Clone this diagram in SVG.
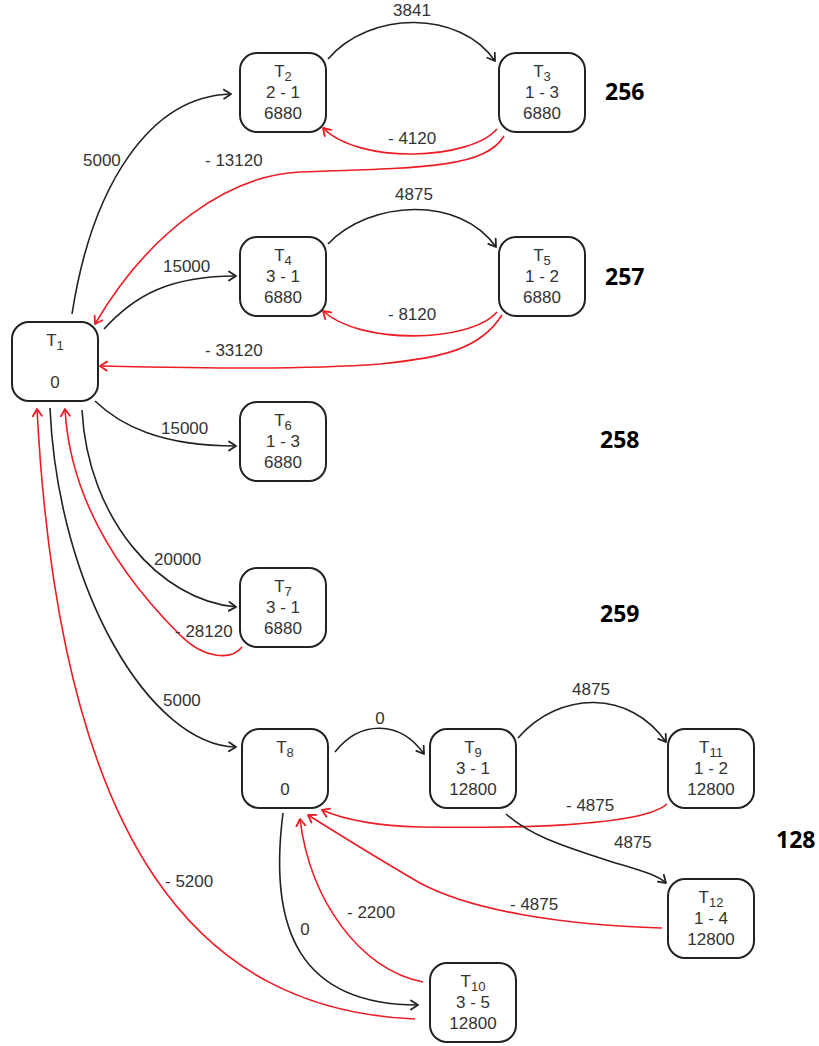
<svg xmlns="http://www.w3.org/2000/svg" width="819" height="1046" viewBox="0 0 819 1046">
<style>
.n rect{fill:#fff;stroke:#222;stroke-width:2}
.n text{font-family:"Liberation Sans",Arial,sans-serif;font-size:17px;fill:#333;text-anchor:middle}
.sub{font-size:13px}
.lbl{font-family:"Liberation Sans",Arial,sans-serif;font-size:17px;fill:#333}
.big{font-family:"Open Sans","Noto Sans",sans-serif;font-size:23px;font-weight:bold;fill:#000}
.b{fill:none;stroke:#222;stroke-width:1.6;marker-end:url(#ab)}
.r{fill:none;stroke:#ee1c24;stroke-width:1.6;marker-end:url(#ar)}
</style>
<defs>
<marker id="ab" markerUnits="userSpaceOnUse" markerWidth="12" markerHeight="12" refX="8" refY="5" orient="auto" viewBox="0 0 12 10">
<path d="M1,0.5 L8,5 L1,9.5" fill="none" stroke="#222" stroke-width="1.8" stroke-linecap="round" stroke-linejoin="round"/>
</marker>
<marker id="ar" markerUnits="userSpaceOnUse" markerWidth="12" markerHeight="12" refX="8" refY="5" orient="auto" viewBox="0 0 12 10">
<path d="M1,0.5 L8,5 L1,9.5" fill="none" stroke="#ee1c24" stroke-width="1.8" stroke-linecap="round" stroke-linejoin="round"/>
</marker>
</defs>
<rect width="819" height="1046" fill="#fff"/>
<g id="connectors">
<path class="b" d="M72,314 C92,185 150,96 231,94"/>
<path class="b" d="M328,59 C370,10 460,10 495,61"/>
<path class="r" d="M497,129 C470,160 360,165 323,128"/>
<path class="r" d="M504,136 C485,168 420,168 300,172 C230,175 150,230 95,324"/>
<path class="b" d="M104,329 C135,295 170,276 236,276"/>
<path class="b" d="M328,244 C370,200 460,195 496,247"/>
<path class="r" d="M497,312 C470,343 360,345 323,311"/>
<path class="r" d="M502,315 C480,350 440,358 380,364 C300,370 200,368 100,366"/>
<path class="b" d="M95,401 C120,425 160,446 236,446"/>
<path class="b" d="M82,410 C88,520 160,600 236,607"/>
<path class="r" d="M242,647 C232,660 205,660 180,635 C120,575 70,500 65,409"/>
<path class="b" d="M50,408 C58,590 150,745 236,747"/>
<path class="r" d="M415,1019 C200,1010 60,850 37,409"/>
<path class="b" d="M335,752 C360,720 400,720 424,754"/>
<path class="b" d="M518,738 C560,690 630,690 666,742"/>
<path class="r" d="M667,804 C640,828 500,828 420,827 C380,826 345,820 322,810"/>
<path class="b" d="M506,814 C530,835 560,845 600,858 C630,868 655,873 666,883"/>
<path class="r" d="M662,928 C560,925 470,910 420,883 C380,860 340,835 308,815"/>
<path class="b" d="M283,813 C268,930 300,1005 418,1005"/>
<path class="r" d="M423,982 C360,970 310,900 300,819"/>
</g>
<g id="labels">
<text class="lbl" x="412" y="16" text-anchor="middle">3841</text>
<text class="lbl" x="83" y="166">5000</text>
<text class="lbl" x="205" y="166">- 13120</text>
<text class="lbl" x="388" y="144">- 4120</text>
<text class="lbl" x="414" y="200" text-anchor="middle">4875</text>
<text class="lbl" x="163" y="272">15000</text>
<text class="lbl" x="388" y="320">- 8120</text>
<text class="lbl" x="205" y="356">- 33120</text>
<text class="lbl" x="161" y="434">15000</text>
<text class="lbl" x="154" y="565">20000</text>
<text class="lbl" x="175" y="637">- 28120</text>
<text class="lbl" x="163" y="706">5000</text>
<text class="lbl" x="380" y="724" text-anchor="middle">0</text>
<text class="lbl" x="591" y="695" text-anchor="middle">4875</text>
<text class="lbl" x="566" y="811">- 4875</text>
<text class="lbl" x="614" y="848">4875</text>
<text class="lbl" x="510" y="910">- 4875</text>
<text class="lbl" x="347" y="918">- 2200</text>
<text class="lbl" x="305" y="935" text-anchor="middle">0</text>
<text class="lbl" x="165" y="887">- 5200</text>
<text class="big" x="605" y="100">256</text>
<text class="big" x="605" y="285">257</text>
<text class="big" x="600" y="448">258</text>
<text class="big" x="600" y="622">259</text>
<text class="big" x="776" y="848">128</text>
</g>
<g id="T1" class="n"><rect x="12" y="322" width="86" height="79" rx="17"/><text x="55" y="346">T<tspan class="sub" dy="4">1</tspan></text><text x="55" y="388">0</text></g>
<g id="T2" class="n"><rect x="240" y="53" width="86" height="79" rx="17"/><text x="283" y="77">T<tspan class="sub" dy="4">2</tspan></text><text x="283" y="98">2 - 1</text><text x="283" y="119">6880</text></g>
<g id="T3" class="n"><rect x="499" y="53" width="86" height="79" rx="17"/><text x="542" y="77">T<tspan class="sub" dy="4">3</tspan></text><text x="542" y="98">1 - 3</text><text x="542" y="119">6880</text></g>
<g id="T4" class="n"><rect x="240" y="237" width="86" height="79" rx="17"/><text x="283" y="261">T<tspan class="sub" dy="4">4</tspan></text><text x="283" y="282">3 - 1</text><text x="283" y="303">6880</text></g>
<g id="T5" class="n"><rect x="499" y="237" width="86" height="79" rx="17"/><text x="542" y="261">T<tspan class="sub" dy="4">5</tspan></text><text x="542" y="282">1 - 2</text><text x="542" y="303">6880</text></g>
<g id="T6" class="n"><rect x="240" y="402" width="86" height="79" rx="17"/><text x="283" y="426">T<tspan class="sub" dy="4">6</tspan></text><text x="283" y="447">1 - 3</text><text x="283" y="468">6880</text></g>
<g id="T7" class="n"><rect x="240" y="568" width="86" height="79" rx="17"/><text x="283" y="592">T<tspan class="sub" dy="4">7</tspan></text><text x="283" y="613">3 - 1</text><text x="283" y="634">6880</text></g>
<g id="T8" class="n"><rect x="242" y="729" width="86" height="79" rx="17"/><text x="285" y="753">T<tspan class="sub" dy="4">8</tspan></text><text x="285" y="795">0</text></g>
<g id="T9" class="n"><rect x="430" y="729" width="86" height="79" rx="17"/><text x="473" y="753">T<tspan class="sub" dy="4">9</tspan></text><text x="473" y="774">3 - 1</text><text x="473" y="795">12800</text></g>
<g id="T11" class="n"><rect x="668" y="729" width="86" height="79" rx="17"/><text x="711" y="753">T<tspan class="sub" dy="4">11</tspan></text><text x="711" y="774">1 - 2</text><text x="711" y="795">12800</text></g>
<g id="T12" class="n"><rect x="668" y="879" width="86" height="79" rx="17"/><text x="711" y="903">T<tspan class="sub" dy="4">12</tspan></text><text x="711" y="924">1 - 4</text><text x="711" y="945">12800</text></g>
<g id="T10" class="n"><rect x="430" y="963" width="86" height="79" rx="17"/><text x="473" y="987">T<tspan class="sub" dy="4">10</tspan></text><text x="473" y="1008">3 - 5</text><text x="473" y="1029">12800</text></g>
</svg>
